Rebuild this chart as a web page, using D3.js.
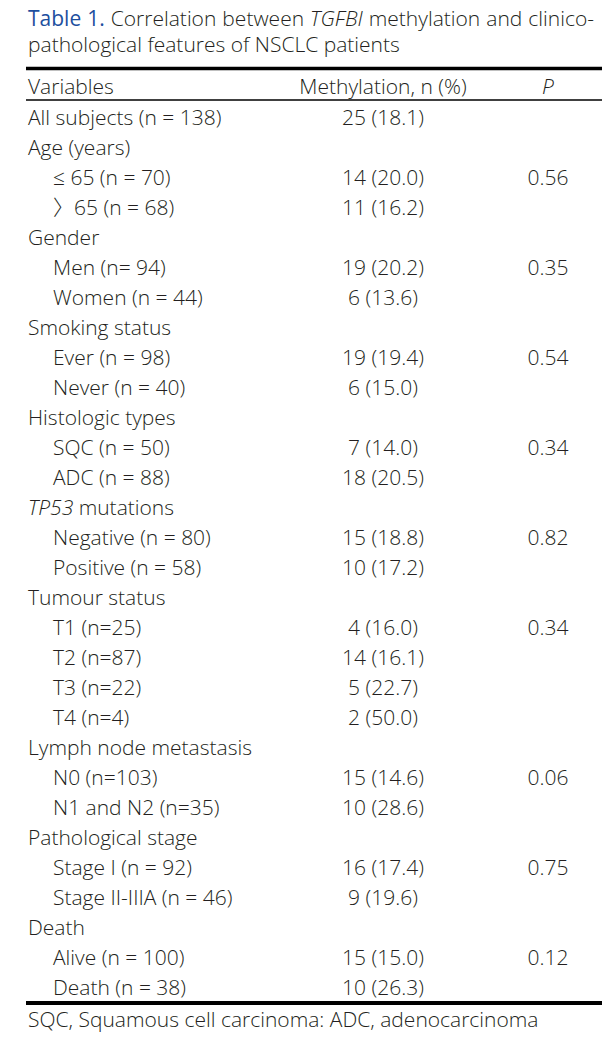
<!DOCTYPE html>
<html>
<head>
<meta charset="utf-8">
<script src="https://cdn.jsdelivr.net/npm/d3@7"></script>
<style>
  html, body { margin: 0; padding: 0; background: #fff; }
  svg { display: block; }
  text { font-family: "Open Sans", "Noto Sans", sans-serif; fill: #231f20; font-weight: 300; }
</style>
</head>
<body>
<svg id="chart" width="615" height="1037"></svg>
<script>
// ---- data ----
const titleWords = [
  { t: "Table", blue: true }, { t: "1.", blue: true }, { t: "Correlation" }, { t: "between" },
  { t: "TGFBI", italic: true }, { t: "methylation" }, { t: "and" }, { t: "clinico-" }
];
const titleLine2 = "pathological features of NSCLC patients";
const headers = ["Variables", "Methylation, n (%)", "P"];
const rowLabels = [
  "All subjects (n = 138)",
  "Age (years)", "≤ 65 (n = 70)", "〉65 (n = 68)",
  "Gender", "Men (n= 94)", "Women (n = 44)",
  "Smoking status", "Ever (n = 98)", "Never (n = 40)",
  "Histologic types", "SQC (n = 50)", "ADC (n = 88)",
  "TP53 mutations", "Negative (n = 80)", "Positive (n = 58)",
  "Tumour status", "T1 (n=25)", "T2 (n=87)", "T3 (n=22)", "T4 (n=4)",
  "Lymph node metastasis", "N0 (n=103)", "N1 and N2 (n=35)",
  "Pathological stage", "Stage I (n = 92)", "Stage II-IIIA (n = 46)",
  "Death", "Alive (n = 100)", "Death (n = 38)"
];
const rowLevel = [0, 0,1,1, 0,1,1, 0,1,1, 0,1,1, 0,1,1, 0,1,1,1,1, 0,1,1, 0,1,1, 0,1,1];
const methylation = [
  "25 (18.1)",
  "", "14 (20.0)", "11 (16.2)",
  "", "19 (20.2)", "6 (13.6)",
  "", "19 (19.4)", "6 (15.0)",
  "", "7 (14.0)", "18 (20.5)",
  "", "15 (18.8)", "10 (17.2)",
  "", "4 (16.0)", "14 (16.1)", "5 (22.7)", "2 (50.0)",
  "", "15 (14.6)", "10 (28.6)",
  "", "16 (17.4)", "9 (19.6)",
  "", "15 (15.0)", "10 (26.3)"
];
const pValues = [
  "",
  "", "0.56", "",
  "", "0.35", "",
  "", "0.54", "",
  "", "0.34", "",
  "", "0.82", "",
  "", "0.34", "", "", "",
  "", "0.06", "",
  "", "0.75", "",
  "", "0.12", ""
];
const italicPrefix = { "TP53 mutations": "TP53" };
const footnote = "SQC, Squamous cell carcinoma: ADC, adenocarcinoma";

// ---- layout ----
const svg = d3.select("#chart");
const fs = 21;
const left = 26, right = 602;
const xLabel = 28, xIndent = 53, xMeth = 383, xP = 548;

const y = d3.scalePoint()
  .domain(d3.range(rowLabels.length))
  .range([125, 125 + 30 * (rowLabels.length - 1)]);

// title line 1, justified
const t1 = svg.append("g");
const words = t1.selectAll("text").data(titleWords).join("text")
  .attr("y", 26)
  .attr("font-size", fs)
  .style("font-style", d => d.italic ? "italic" : null)
  .style("fill", d => d.blue ? "#1d4e9e" : null)
  .style("font-weight", d => d.blue ? 400 : null)
  .text(d => d.t);
const widths = [];
words.each(function () { widths.push(this.getComputedTextLength()); });
const startX = 28, endX = 594;
const gap = (endX - startX - d3.sum(widths)) / (widths.length - 1);
let cx = startX;
words.attr("x", (d, i) => { const v = cx; cx += widths[i] + gap; return v; });

svg.append("text").attr("x", 28).attr("y", 52).attr("font-size", fs).text(titleLine2);

// rules
svg.append("line").attr("x1", left).attr("x2", right).attr("y1", 68.5).attr("y2", 68.5)
  .attr("stroke", "#000").attr("stroke-width", 3.5);
svg.append("line").attr("x1", left).attr("x2", right).attr("y1", 100).attr("y2", 100)
  .attr("stroke", "#000").attr("stroke-width", 1.5);
svg.append("line").attr("x1", left).attr("x2", right).attr("y1", 1003).attr("y2", 1003)
  .attr("stroke", "#000").attr("stroke-width", 4);

// headers
const hx = [xLabel, xMeth, xP];
const ha = ["start", "middle", "middle"];
svg.append("g").selectAll("text").data(headers).join("text")
  .attr("x", (d, i) => hx[i]).attr("y", 94)
  .attr("text-anchor", (d, i) => ha[i])
  .attr("font-size", fs)
  .style("font-style", d => d === "P" ? "italic" : null)
  .text(d => d);

// rows
const rows = svg.append("g").selectAll("g").data(rowLabels).join("g")
  .attr("transform", (d, i) => `translate(0,${y(i)})`);

rows.append("text")
  .attr("x", (d, i) => rowLevel[i] ? xIndent : xLabel)
  .attr("font-size", fs)
  .each(function (d) {
    const sel = d3.select(this);
    const pre = italicPrefix[d];
    if (pre) {
      sel.append("tspan").style("font-style", "italic").text(pre);
      sel.append("tspan").text(d.slice(pre.length));
    } else if (d.startsWith("〉")) {
      sel.append("tspan").style("font-family", "'Noto Sans CJK KR', sans-serif")
        .style("font-weight", 300).text("〉");
      sel.append("tspan").text(d.slice(1));
    } else {
      sel.text(d);
    }
  });

rows.append("text")
  .attr("x", xMeth).attr("text-anchor", "middle").attr("font-size", fs)
  .text((d, i) => methylation[i]);

rows.append("text")
  .attr("x", xP).attr("text-anchor", "middle").attr("font-size", fs)
  .text((d, i) => pValues[i]);

// footnote
svg.append("text").attr("x", 28).attr("y", 1027).attr("font-size", fs).text(footnote);
</script>
</body>
</html>
